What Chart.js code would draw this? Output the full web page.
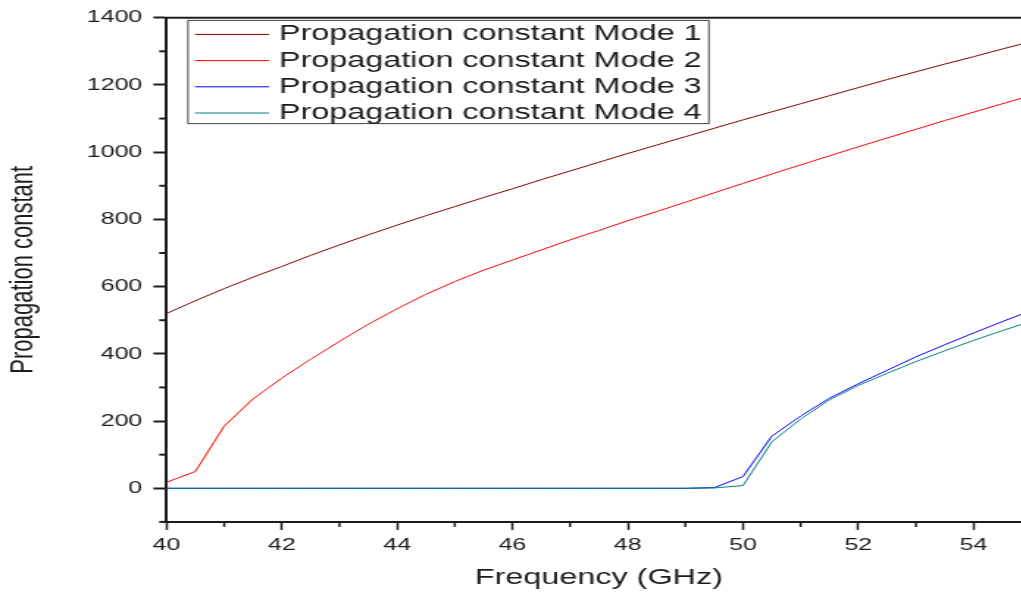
<!DOCTYPE html>
<html>
<head>
<meta charset="utf-8">
<title>Propagation constant vs frequency</title>
<script src="https://cdn.jsdelivr.net/npm/chart.js@4.4.1/dist/chart.umd.min.js"></script>
<style>
  html, body { margin: 0; padding: 0; background: #ffffff; }
  #frame { width: 1021px; height: 593px; overflow: hidden; position: relative; }
  /* the plot is laid out on a narrower canvas and widened horizontally */
  #stretch { position: absolute; left: 0; top: 0; width: 712px; height: 593px;
             transform: scaleX(1.47); transform-origin: 0 0; }
</style>
</head>
<body>
<div id="frame"><div id="stretch"><canvas id="plot" width="712" height="593"></canvas></div></div>
<script>
// Frequency sweep (GHz)
const frequency = [40, 40.5, 41, 41.5, 42, 42.5, 43, 43.5, 44, 44.5, 45, 45.5, 46, 46.5, 47, 47.5,
                   48, 48.5, 49, 49.5, 50, 50.5, 51, 51.5, 52, 52.5, 53, 53.5, 54, 54.5, 55];

// Propagation constant of each mode at the frequencies above
const mode1 = [520, 558, 594, 628, 660, 693, 724, 754, 783, 811, 838, 865, 891, 918, 944, 970,
               996, 1021, 1046, 1071, 1096, 1120, 1144, 1168, 1192, 1216, 1239, 1262, 1284, 1307, 1329];
const mode2 = [18, 50, 185, 266, 328, 384, 437, 488, 534, 577, 615, 649, 679, 709, 739, 767,
               796, 823, 851, 879, 907, 935, 962, 989, 1016, 1042, 1068, 1094, 1119, 1144, 1169];
const mode3 = [0, 0, 0, 0, 0, 0, 0, 0, 0, 0, 0, 0, 0, 0, 0, 0,
               0, 0, 0, 2, 35, 155, 215, 268, 311, 351, 391, 427, 462, 496, 529];
const mode4 = [0, 0, 0, 0, 0, 0, 0, 0, 0, 0, 0, 0, 0, 0, 0, 0,
               0, 0, 0, 1, 8, 138, 206, 263, 306, 342, 377, 409, 440, 469, 497];

const seriesNames = ['Propagation constant Mode 1', 'Propagation constant Mode 2',
                     'Propagation constant Mode 3', 'Propagation constant Mode 4'];

// Axis ticks
const xMajor = [40, 42, 44, 46, 48, 50, 52, 54];
const xMinor = [41, 43, 45, 47, 49, 51, 53, 55];
const yMajor = [0, 200, 400, 600, 800, 1000, 1200, 1400];
const yMinor = [-100, 100, 300, 500, 700, 900, 1100, 1300];

const ink = '#1c1c1c';
const family = "'Liberation Sans', Arial, Helvetica, sans-serif";
const colors = ['#800000', '#ff0000', '#0000ff', '#008080'];

const pairs = ys => frequency.map((f, i) => ({ x: f, y: ys[i] }));

// Minor tick marks and the top frame line
const frameAndMinorTicks = {
  id: 'frameAndMinorTicks',
  afterDraw(chart) {
    const { ctx, chartArea: a, scales: { x, y } } = chart;
    ctx.save();
    ctx.strokeStyle = ink;
    const seg = (x1, y1, x2, y2) => { ctx.beginPath(); ctx.moveTo(x1, y1); ctx.lineTo(x2, y2); ctx.stroke(); };
    ctx.lineWidth = 2;
    seg(a.left - 1, a.top, a.right + 1, a.top);
    seg(a.right, a.top, a.right, a.bottom);
    ctx.lineWidth = 2;
    yMinor.forEach(v => { const p = y.getPixelForValue(v); seg(a.left - 5, p, a.left, p); });
    ctx.lineWidth = 1.5;
    xMinor.forEach(v => { const p = x.getPixelForValue(v); seg(p, a.bottom, p, a.bottom + 5); });
    ctx.restore();
  }
};

// Boxed legend in the upper-left corner of the plot area
const boxedLegend = {
  id: 'boxedLegend',
  afterDraw(chart) {
    const { ctx, chartArea: a } = chart;
    const left = a.left + 14.6, top = a.top + 2.7;
    const rowStart = a.top + 16.7, rowGap = 26.2;
    const lineX1 = a.left + 19.4, lineX2 = a.left + 69.7, textX = a.left + 76.5;
    ctx.save();
    ctx.font = `22px ${family}`;
    const widest = Math.max(...chart.data.datasets.map(d => ctx.measureText(d.label).width));
    const right = textX + widest + 5;
    const bottom = rowStart + rowGap * 3 + 10.6;
    ctx.fillStyle = 'rgba(255,255,255,0.6)';
    ctx.fillRect(left, top, right - left, bottom - top);
    ctx.strokeStyle = '#444';
    ctx.lineWidth = 1;
    ctx.strokeRect(left, top, right - left, bottom - top);
    chart.data.datasets.forEach((d, i) => {
      const yy = rowStart + i * rowGap;
      ctx.strokeStyle = d.borderColor;
      ctx.lineWidth = 1;
      ctx.beginPath(); ctx.moveTo(lineX1, yy); ctx.lineTo(lineX2, yy); ctx.stroke();
      ctx.fillStyle = ink;
      ctx.textBaseline = 'middle';
      ctx.textAlign = 'left';
      ctx.fillText(d.label, textX, yy);
    });
    ctx.restore();
  }
};

new Chart(document.getElementById('plot'), {
  type: 'line',
  data: {
    datasets: [mode1, mode2, mode3, mode4].map((ys, i) => ({
      label: seriesNames[i],
      data: pairs(ys),
      borderColor: colors[i],
      backgroundColor: colors[i],
      borderWidth: 1,
      pointRadius: 0,
      tension: 0,
      fill: false,
      order: 3 - i
    }))
  },
  options: {
    responsive: false,
    animation: false,
    devicePixelRatio: 1,
    events: [],
    layout: { padding: { top: 17.3, right: 10.5, bottom: 0, left: 0 } },
    plugins: { legend: { display: false }, tooltip: { enabled: false } },
    scales: {
      x: {
        type: 'linear', min: 40, max: 55,
        afterBuildTicks: s => { s.ticks = xMajor.map(v => ({ value: v })); },
        afterFit: s => { s.height = 71.1; },
        grid: { drawOnChartArea: false, drawTicks: true, tickLength: 8, tickWidth: 1.5, tickColor: ink },
        border: { display: true, color: ink, width: 2 },
        ticks: { font: { family, size: 17 }, color: ink, padding: 5, maxRotation: 0, autoSkip: false,
                 callback: v => String(v) },
        title: { display: true, text: 'Frequency (GHz)', color: ink,
                 font: { family, size: 22 }, padding: { top: 0, bottom: 2 } }
      },
      y: {
        type: 'linear', min: -100, max: 1400,
        afterBuildTicks: s => { s.ticks = yMajor.map(v => ({ value: v })); },
        afterFit: s => { s.width = 113.3; },
        grid: { drawOnChartArea: false, drawTicks: true, tickLength: 9, tickWidth: 2, tickColor: ink },
        border: { display: true, color: ink, width: 2 },
        ticks: { font: { family, size: 17 }, color: ink, padding: 7.5, autoSkip: false,
                 callback: v => String(v) },
        title: { display: true, text: 'Propagation constant', color: ink,
                 font: { family, size: 22 }, padding: { top: 3, bottom: 0 } }
      }
    }
  },
  plugins: [frameAndMinorTicks, boxedLegend]
});
</script>
</body>
</html>
